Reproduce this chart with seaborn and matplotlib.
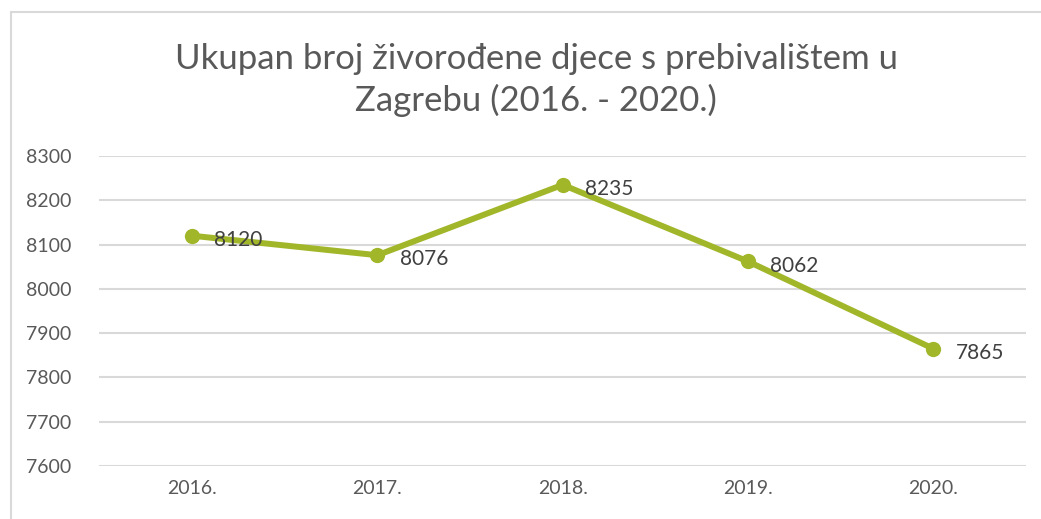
import matplotlib
matplotlib.use("Agg")
import matplotlib.pyplot as plt
import seaborn as sns
import pandas as pd
from matplotlib.patches import Rectangle

# Data
years = ["2016.", "2017.", "2018.", "2019.", "2020."]
births = [8120, 8076, 8235, 8062, 7865]
y_ticks = [7600, 7700, 7800, 7900, 8000, 8100, 8200, 8300]

df = pd.DataFrame({"Godina": years, "Broj": births})

sns.set_style("white")
plt.rcParams["font.family"] = ["Lato", "DejaVu Sans"]

line_color = "#a2b629"
text_color = "#595959"
grid_color = "#d9d9d9"

fig = plt.figure(figsize=(10.41, 5.19), dpi=100)
ax = fig.add_axes([0.0955, 0.1021, 0.890, 0.5973])

# Outer chart border (extends past the right edge)
fig.patches.append(Rectangle((11 / 1041, -0.05), 1.05, 1 - 12 / 519 + 0.05,
                             transform=fig.transFigure, fill=False,
                             edgecolor=grid_color, linewidth=1.5))

sns.lineplot(data=df, x="Godina", y="Broj", ax=ax, sort=False,
             color=line_color, linewidth=4.3, marker="o", markersize=11,
             markeredgewidth=0)

for i, (yr, val) in enumerate(zip(years, births)):
    ax.annotate(str(val), (i, val), xytext=(16, -3), textcoords="offset points",
                ha="left", va="center", fontsize=15, color="#404040")

ax.set_xlim(-0.5, len(years) - 0.5)
ax.set_ylim(7600, 8300)
ax.set_yticks(y_ticks)
ax.yaxis.grid(True, color=grid_color, linewidth=1.5)
ax.xaxis.grid(False)
ax.set_axisbelow(True)
for s in ax.spines.values():
    s.set_visible(False)
ax.tick_params(axis="both", length=0, labelsize=14, labelcolor=text_color)
ax.tick_params(axis="y", pad=20)
ax.tick_params(axis="x", pad=10)
ax.set_xlabel("")
ax.set_ylabel("")

fig.text(0.515, 0.846, "Ukupan broj živorođene djece s prebivalištem u\nZagrebu (2016. - 2020.)",
         ha="center", va="center", fontsize=25, color=text_color, linespacing=1.3)

fig.savefig("out.png", dpi=100)
